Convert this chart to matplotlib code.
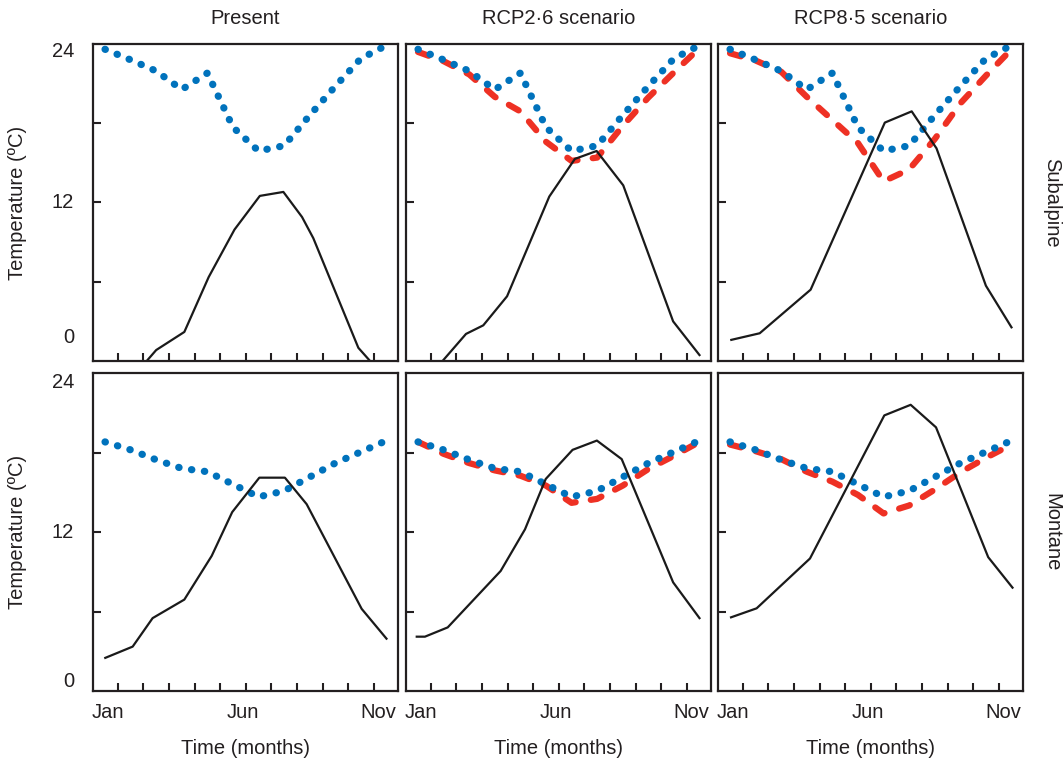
import matplotlib
matplotlib.use("Agg")
import matplotlib.pyplot as plt
import matplotlib.transforms as mtransforms

plt.rcParams['font.family'] = ['Liberation Sans', 'DejaVu Sans']
plt.rcParams['font.size'] = 14.5

months = list(range(12))

# blue dotted line: present-day temperature (same curve in every panel of a row)
present_subalpine = [23.6, 22.8, 21.95, 20.55, 21.8, 17.7, 15.9, 16.3, 18.6, 20.8, 22.9, 23.9]
present_montane = [18.8, 18.2, 17.45, 16.8, 16.55, 15.6, 14.65, 15.1, 16.15, 17.2, 18.05, 18.9]

# red dashed line: scenario temperatures
rcp26_subalpine = [23.4, 22.7, 21.7, 20.0, 18.9, 16.6, 15.15, 15.4, 17.8, 19.95, 21.85, 23.7]
rcp85_subalpine = [23.3, 22.75, 21.9, 20.0, 18.25, 16.5, 13.6, 14.5, 16.8, 19.5, 21.6, 23.6]
rcp26_montane = [18.8, 17.9, 17.2, 16.65, 16.25, 15.5, 14.2, 14.5, 15.5, 16.75, 17.75, 18.8]
rcp85_montane = [18.6, 18.1, 17.5, 16.55, 15.8, 14.8, 13.4, 14.0, 15.2, 16.5, 17.6, 18.6]

# black line (own x positions, in months)
blk_pres_sub_x = [1.0, 2.0, 3.1, 4.05, 5.06, 6.05, 6.97, 7.7, 8.14, 9.9, 11.0]
blk_pres_sub_y = [-1.4, 0.83, 2.2, 6.35, 9.95, 12.5, 12.8, 10.9, 9.3, 1.0, -1.4]
blk_26_sub_x = [0.6, 1.875, 2.55, 3.48, 5.13, 6.13, 6.98, 8.02, 9.97, 11.0]
blk_26_sub_y = [-0.8, 2.05, 2.7, 4.9, 12.45, 15.3, 15.9, 13.3, 3.0, 0.45]
blk_85_sub_x = [0.05, 1.16, 3.15, 6.05, 7.1, 8.07, 10.0, 11.0]
blk_85_sub_y = [1.6, 2.1, 5.4, 18.05, 18.9, 16.1, 5.7, 2.55]
blk_pres_mon_x = [0.01, 1.08, 1.86, 3.1, 4.17, 4.97, 6.03, 7.03, 7.88, 10.03, 11.0]
blk_pres_mon_y = [2.5, 3.35, 5.5, 6.9, 10.2, 13.5, 16.1, 16.1, 14.1, 6.2, 3.95]
blk_26_mon_x = [-0.05, 0.27, 1.16, 3.23, 4.18, 4.99, 6.04, 6.99, 7.96, 9.97, 11.0]
blk_26_mon_y = [4.1, 4.1, 4.8, 9.06, 12.2, 16.0, 18.2, 18.9, 17.5, 8.2, 5.5]
blk_85_mon_x = [0.04, 1.04, 3.125, 6.03, 7.06, 8.05, 10.09, 11.04]
blk_85_mon_y = [5.56, 6.24, 10.0, 20.8, 21.6, 19.9, 10.1, 7.8]

col_titles = ['Present', 'RCP2·6 scenario', 'RCP8·5 scenario']
row_names = ['Subalpine', 'Montane']
month_labels = ['Jan', 'Jun', 'Nov']
y_labels = ['24', '12', '0']

blue = [present_subalpine, present_montane]
red = [[None, rcp26_subalpine, rcp85_subalpine],
       [None, rcp26_montane, rcp85_montane]]
black = [[(blk_pres_sub_x, blk_pres_sub_y), (blk_26_sub_x, blk_26_sub_y), (blk_85_sub_x, blk_85_sub_y)],
         [(blk_pres_mon_x, blk_pres_mon_y), (blk_26_mon_x, blk_26_mon_y), (blk_85_mon_x, blk_85_mon_y)]]

# layout (figure pixels 1064 x 763)
W, H = 1064, 763
col_left = [93, 406, 718]
row_top = [44, 373]
row_bot = [361, 691]
ax_w = 305
month_label_pos = [0.1, 5.4, 10.7]
ylab_pos = [[23.4, 12, 1.77], [23.3, 12, 0.7]]

BLUE = '#0072bc'
RED = '#ee3124'
INK = '#231f20'

fig = plt.figure(figsize=(W / 100, H / 100), dpi=100)

for r in range(2):
    for c in range(3):
        ax = fig.add_axes([col_left[c] / W, 1 - row_bot[r] / H,
                           ax_w / W, (row_bot[r] - row_top[r]) / H])
        if red[r][c] is not None:
            ax.plot(months, red[r][c], color=RED, lw=4.5,
                    linestyle=(0, (1.8, 2.45)), dash_capstyle='round')
        ax.plot(months, blue[r], color=BLUE, lw=5.2,
                linestyle=(0, (0.05, 1.75)), dash_capstyle='round')
        bx, by = black[r][c]
        ax.plot(bx, by, color='#1a1a1a', lw=1.6)

        ax.set_xlim(-0.47, 11.45)
        ax.set_ylim(0, 24)
        ax.set_xticks([m + 0.5 for m in range(11)])
        ax.set_yticks([6, 12, 18])
        ax.set_xticklabels([])
        ax.set_yticklabels([])
        ax.tick_params(direction='in', length=5.8, width=1.5, color=INK)
        for s in ax.spines.values():
            s.set_linewidth(1.6)
            s.set_color(INK)

        for lab, pos in zip(month_labels, month_label_pos):
            ax.text(pos, -0.069, lab, transform=ax.get_xaxis_transform(),
                    ha='center', va='center', color=INK)
        if r == 1:
            fig.text((col_left[c] + ax_w / 2) / W, 1 - 748 / H, 'Time (months)',
                     ha='center', va='center', color=INK)
        if r == 0:
            fig.text((col_left[c] + ax_w / 2) / W, 1 - 19 / H, col_titles[c],
                     ha='center', va='center', color=INK)
        if c == 0:
            trans = mtransforms.blended_transform_factory(ax.transAxes, ax.transData)
            for lab, v in zip(y_labels, ylab_pos[r]):
                ax.text(-0.062, v, lab, transform=trans, ha='right', va='center', color=INK)
            fig.text(18 / W, 1 - (row_top[r] + row_bot[r]) / 2 / H, 'Temperature (ºC)',
                     rotation=90, ha='center', va='center', color=INK)
        if c == 2:
            fig.text(1052 / W, 1 - (row_top[r] + row_bot[r]) / 2 / H, row_names[r],
                     rotation=270, ha='center', va='center', color=INK)

fig.savefig('out.png', dpi=100)
